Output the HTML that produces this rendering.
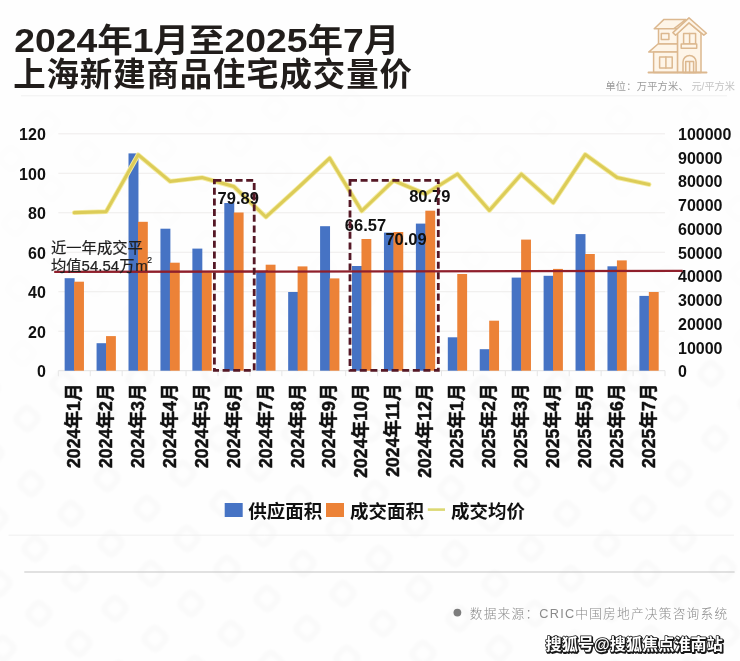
<!DOCTYPE html>
<html><head><meta charset="utf-8"><title>chart</title>
<style>html,body{margin:0;padding:0;background:#fefefe;font-family:"Liberation Sans",sans-serif;}body{width:740px;height:661px;overflow:hidden}svg text{font-family:"Liberation Sans","Noto Sans CJK SC",sans-serif;}</style>
</head><body>
<svg width="740" height="661" viewBox="0 0 740 661" style="display:block;filter:blur(0.45px)">
<defs>
<g id="wm"><rect x="-12" y="-12" width="24" height="24" rx="7" transform="rotate(42)"/><rect x="-5" y="-5" width="10" height="10" rx="2" fill="#fefefe" transform="rotate(42)"/></g>
<filter id="soft" x="-5%" y="-5%" width="110%" height="110%"><feGaussianBlur stdDeviation="1.6"/></filter>
</defs>
<rect width="740" height="661" fill="#fefefe"/>
<g filter="url(#soft)" fill="#000" opacity="0.019">
<use href="#wm" x="-13.0" y="388.5"/>
<use href="#wm" x="-9.0" y="453.5"/>
<use href="#wm" x="27.0" y="418.5"/>
<use href="#wm" x="63.0" y="383.5"/>
<use href="#wm" x="-5.0" y="518.5"/>
<use href="#wm" x="31.0" y="483.5"/>
<use href="#wm" x="67.0" y="448.5"/>
<use href="#wm" x="103.0" y="413.5"/>
<use href="#wm" x="139.0" y="378.5"/>
<use href="#wm" x="-1.0" y="583.5"/>
<use href="#wm" x="35.0" y="548.5"/>
<use href="#wm" x="71.0" y="513.5"/>
<use href="#wm" x="107.0" y="478.5"/>
<use href="#wm" x="143.0" y="443.5"/>
<use href="#wm" x="179.0" y="408.5"/>
<use href="#wm" x="215.0" y="373.5"/>
<use href="#wm" x="3.0" y="648.5"/>
<use href="#wm" x="39.0" y="613.5"/>
<use href="#wm" x="75.0" y="578.5"/>
<use href="#wm" x="111.0" y="543.5"/>
<use href="#wm" x="147.0" y="508.5"/>
<use href="#wm" x="183.0" y="473.5"/>
<use href="#wm" x="219.0" y="438.5"/>
<use href="#wm" x="255.0" y="403.5"/>
<use href="#wm" x="43.0" y="678.5"/>
<use href="#wm" x="79.0" y="643.5"/>
<use href="#wm" x="115.0" y="608.5"/>
<use href="#wm" x="151.0" y="573.5"/>
<use href="#wm" x="187.0" y="538.5"/>
<use href="#wm" x="223.0" y="503.5"/>
<use href="#wm" x="259.0" y="468.5"/>
<use href="#wm" x="295.0" y="433.5"/>
<use href="#wm" x="331.0" y="398.5"/>
<use href="#wm" x="119.0" y="673.5"/>
<use href="#wm" x="155.0" y="638.5"/>
<use href="#wm" x="191.0" y="603.5"/>
<use href="#wm" x="227.0" y="568.5"/>
<use href="#wm" x="263.0" y="533.5"/>
<use href="#wm" x="299.0" y="498.5"/>
<use href="#wm" x="335.0" y="463.5"/>
<use href="#wm" x="371.0" y="428.5"/>
<use href="#wm" x="407.0" y="393.5"/>
<use href="#wm" x="195.0" y="668.5"/>
<use href="#wm" x="231.0" y="633.5"/>
<use href="#wm" x="267.0" y="598.5"/>
<use href="#wm" x="303.0" y="563.5"/>
<use href="#wm" x="339.0" y="528.5"/>
<use href="#wm" x="375.0" y="493.5"/>
<use href="#wm" x="411.0" y="458.5"/>
<use href="#wm" x="447.0" y="423.5"/>
<use href="#wm" x="483.0" y="388.5"/>
<use href="#wm" x="235.0" y="698.5"/>
<use href="#wm" x="271.0" y="663.5"/>
<use href="#wm" x="307.0" y="628.5"/>
<use href="#wm" x="343.0" y="593.5"/>
<use href="#wm" x="379.0" y="558.5"/>
<use href="#wm" x="415.0" y="523.5"/>
<use href="#wm" x="451.0" y="488.5"/>
<use href="#wm" x="487.0" y="453.5"/>
<use href="#wm" x="523.0" y="418.5"/>
<use href="#wm" x="559.0" y="383.5"/>
<use href="#wm" x="311.0" y="693.5"/>
<use href="#wm" x="347.0" y="658.5"/>
<use href="#wm" x="383.0" y="623.5"/>
<use href="#wm" x="419.0" y="588.5"/>
<use href="#wm" x="455.0" y="553.5"/>
<use href="#wm" x="491.0" y="518.5"/>
<use href="#wm" x="527.0" y="483.5"/>
<use href="#wm" x="563.0" y="448.5"/>
<use href="#wm" x="599.0" y="413.5"/>
<use href="#wm" x="635.0" y="378.5"/>
<use href="#wm" x="387.0" y="688.5"/>
<use href="#wm" x="423.0" y="653.5"/>
<use href="#wm" x="459.0" y="618.5"/>
<use href="#wm" x="495.0" y="583.5"/>
<use href="#wm" x="531.0" y="548.5"/>
<use href="#wm" x="567.0" y="513.5"/>
<use href="#wm" x="603.0" y="478.5"/>
<use href="#wm" x="639.0" y="443.5"/>
<use href="#wm" x="675.0" y="408.5"/>
<use href="#wm" x="711.0" y="373.5"/>
<use href="#wm" x="463.0" y="683.5"/>
<use href="#wm" x="499.0" y="648.5"/>
<use href="#wm" x="535.0" y="613.5"/>
<use href="#wm" x="571.0" y="578.5"/>
<use href="#wm" x="607.0" y="543.5"/>
<use href="#wm" x="643.0" y="508.5"/>
<use href="#wm" x="679.0" y="473.5"/>
<use href="#wm" x="715.0" y="438.5"/>
<use href="#wm" x="751.0" y="403.5"/>
<use href="#wm" x="539.0" y="678.5"/>
<use href="#wm" x="575.0" y="643.5"/>
<use href="#wm" x="611.0" y="608.5"/>
<use href="#wm" x="647.0" y="573.5"/>
<use href="#wm" x="683.0" y="538.5"/>
<use href="#wm" x="719.0" y="503.5"/>
<use href="#wm" x="755.0" y="468.5"/>
<use href="#wm" x="615.0" y="673.5"/>
<use href="#wm" x="651.0" y="638.5"/>
<use href="#wm" x="687.0" y="603.5"/>
<use href="#wm" x="723.0" y="568.5"/>
<use href="#wm" x="759.0" y="533.5"/>
<use href="#wm" x="691.0" y="668.5"/>
<use href="#wm" x="727.0" y="633.5"/>
<use href="#wm" x="731.0" y="698.5"/>
</g>
<g filter="url(#soft)" fill="#000" opacity="0.006">
<use href="#wm" x="11.0" y="158.5"/>
<use href="#wm" x="47.0" y="123.5"/>
<use href="#wm" x="15.0" y="223.5"/>
<use href="#wm" x="51.0" y="188.5"/>
<use href="#wm" x="87.0" y="153.5"/>
<use href="#wm" x="123.0" y="118.5"/>
<use href="#wm" x="-17.0" y="323.5"/>
<use href="#wm" x="19.0" y="288.5"/>
<use href="#wm" x="55.0" y="253.5"/>
<use href="#wm" x="91.0" y="218.5"/>
<use href="#wm" x="127.0" y="183.5"/>
<use href="#wm" x="163.0" y="148.5"/>
<use href="#wm" x="199.0" y="113.5"/>
<use href="#wm" x="23.0" y="353.5"/>
<use href="#wm" x="59.0" y="318.5"/>
<use href="#wm" x="95.0" y="283.5"/>
<use href="#wm" x="131.0" y="248.5"/>
<use href="#wm" x="167.0" y="213.5"/>
<use href="#wm" x="203.0" y="178.5"/>
<use href="#wm" x="239.0" y="143.5"/>
<use href="#wm" x="275.0" y="108.5"/>
<use href="#wm" x="99.0" y="348.5"/>
<use href="#wm" x="135.0" y="313.5"/>
<use href="#wm" x="171.0" y="278.5"/>
<use href="#wm" x="207.0" y="243.5"/>
<use href="#wm" x="243.0" y="208.5"/>
<use href="#wm" x="279.0" y="173.5"/>
<use href="#wm" x="315.0" y="138.5"/>
<use href="#wm" x="351.0" y="103.5"/>
<use href="#wm" x="175.0" y="343.5"/>
<use href="#wm" x="211.0" y="308.5"/>
<use href="#wm" x="247.0" y="273.5"/>
<use href="#wm" x="283.0" y="238.5"/>
<use href="#wm" x="319.0" y="203.5"/>
<use href="#wm" x="355.0" y="168.5"/>
<use href="#wm" x="391.0" y="133.5"/>
<use href="#wm" x="251.0" y="338.5"/>
<use href="#wm" x="287.0" y="303.5"/>
<use href="#wm" x="323.0" y="268.5"/>
<use href="#wm" x="359.0" y="233.5"/>
<use href="#wm" x="395.0" y="198.5"/>
<use href="#wm" x="431.0" y="163.5"/>
<use href="#wm" x="467.0" y="128.5"/>
<use href="#wm" x="291.0" y="368.5"/>
<use href="#wm" x="327.0" y="333.5"/>
<use href="#wm" x="363.0" y="298.5"/>
<use href="#wm" x="399.0" y="263.5"/>
<use href="#wm" x="435.0" y="228.5"/>
<use href="#wm" x="471.0" y="193.5"/>
<use href="#wm" x="507.0" y="158.5"/>
<use href="#wm" x="543.0" y="123.5"/>
<use href="#wm" x="367.0" y="363.5"/>
<use href="#wm" x="403.0" y="328.5"/>
<use href="#wm" x="439.0" y="293.5"/>
<use href="#wm" x="475.0" y="258.5"/>
<use href="#wm" x="511.0" y="223.5"/>
<use href="#wm" x="547.0" y="188.5"/>
<use href="#wm" x="583.0" y="153.5"/>
<use href="#wm" x="619.0" y="118.5"/>
<use href="#wm" x="443.0" y="358.5"/>
<use href="#wm" x="479.0" y="323.5"/>
<use href="#wm" x="515.0" y="288.5"/>
<use href="#wm" x="551.0" y="253.5"/>
<use href="#wm" x="587.0" y="218.5"/>
<use href="#wm" x="623.0" y="183.5"/>
<use href="#wm" x="659.0" y="148.5"/>
<use href="#wm" x="695.0" y="113.5"/>
<use href="#wm" x="519.0" y="353.5"/>
<use href="#wm" x="555.0" y="318.5"/>
<use href="#wm" x="591.0" y="283.5"/>
<use href="#wm" x="627.0" y="248.5"/>
<use href="#wm" x="663.0" y="213.5"/>
<use href="#wm" x="699.0" y="178.5"/>
<use href="#wm" x="735.0" y="143.5"/>
<use href="#wm" x="595.0" y="348.5"/>
<use href="#wm" x="631.0" y="313.5"/>
<use href="#wm" x="667.0" y="278.5"/>
<use href="#wm" x="703.0" y="243.5"/>
<use href="#wm" x="739.0" y="208.5"/>
<use href="#wm" x="671.0" y="343.5"/>
<use href="#wm" x="707.0" y="308.5"/>
<use href="#wm" x="743.0" y="273.5"/>
<use href="#wm" x="747.0" y="338.5"/>
</g>
<text x="14.2" y="51.6" font-size="32.4" font-weight="bold" fill="#211d1b" textLength="385" lengthAdjust="spacingAndGlyphs"><tspan font-size="34">2024</tspan>年<tspan font-size="34">1</tspan>月至<tspan font-size="34">2025</tspan>年<tspan font-size="34">7</tspan>月</text>
<text x="13.3" y="85.8" font-size="32.4" font-weight="bold" fill="#211d1b" textLength="398.5" lengthAdjust="spacing">上海新建商品住宅成交量价</text>
<line x1="21" y1="95.8" x2="727" y2="95.8" stroke="#f0f0f0" stroke-width="1"/>
<text x="735" y="90.3" font-size="10.2" fill="#c4c4c4" text-anchor="end">元/平方米</text>
<text x="688.95" y="90.3" font-size="10.2" fill="#9c9c9c" text-anchor="end" letter-spacing="0.25">单位：万平方米、</text>
<g fill="#fef5e8" stroke="#dcb88f" stroke-width="1.5" stroke-linejoin="round" stroke-linecap="round">
<path d="M654.2 28.7 L664 19.4 L686 19.4 L674 28.7 Z"/>
<path d="M658.5 28.7 V44 H677.6 V28.7 Z"/>
<path d="M648.7 52.1 L658 44 H677.6 V52.1 Z"/>
<path d="M653.6 52.1 V72.5 H677.6 V52.1 Z"/>
<path d="M677.6 33 V72.5 H701 V33 L689 22.7 Z"/>
<path d="M672.9 32.6 L689 17.9 L706.4 33.2 L703.8 35.2 L689 22.9 L675.6 35.2 Z"/>
<rect x="661.3" y="33.6" width="7.6" height="6"/>
<rect x="659.6" y="57" width="12.6" height="10.9"/>
<path d="M665.9 57 V67.9" fill="none"/>
<rect x="683.6" y="33.6" width="12" height="10.4"/>
<path d="M689.6 33.6 V44" fill="none"/>
<rect x="681.2" y="44" width="15.5" height="4.3"/>
<path d="M683 72.5 V62 A6.55 6.55 0 0 1 696.1 62 V72.5 Z"/>
<path d="M685.7 72.5 V61.5 H693.6 V72.5 M689.6 61.5 V72.5" fill="none"/>
<path d="M648.5 72.5 H706.5" fill="none" stroke-width="1.9"/>
</g>
<line x1="58.3" y1="370.70" x2="665.0" y2="370.70" stroke="#e2e2e2" stroke-width="1"/>
<line x1="58.3" y1="331.22" x2="665.0" y2="331.22" stroke="#eeeceb" stroke-width="1"/>
<line x1="58.3" y1="291.73" x2="665.0" y2="291.73" stroke="#eeeceb" stroke-width="1"/>
<line x1="58.3" y1="252.25" x2="665.0" y2="252.25" stroke="#eeeceb" stroke-width="1"/>
<line x1="58.3" y1="212.77" x2="665.0" y2="212.77" stroke="#eeeceb" stroke-width="1"/>
<line x1="58.3" y1="173.28" x2="665.0" y2="173.28" stroke="#eeeceb" stroke-width="1"/>
<line x1="58.3" y1="133.80" x2="665.0" y2="133.80" stroke="#eeeceb" stroke-width="1"/>
<line x1="58.33" y1="370.7" x2="58.33" y2="376.2" stroke="#e6e6e6" stroke-width="1"/>
<line x1="90.26" y1="370.7" x2="90.26" y2="376.2" stroke="#e6e6e6" stroke-width="1"/>
<line x1="122.19" y1="370.7" x2="122.19" y2="376.2" stroke="#e6e6e6" stroke-width="1"/>
<line x1="154.12" y1="370.7" x2="154.12" y2="376.2" stroke="#e6e6e6" stroke-width="1"/>
<line x1="186.06" y1="370.7" x2="186.06" y2="376.2" stroke="#e6e6e6" stroke-width="1"/>
<line x1="217.99" y1="370.7" x2="217.99" y2="376.2" stroke="#e6e6e6" stroke-width="1"/>
<line x1="249.91" y1="370.7" x2="249.91" y2="376.2" stroke="#e6e6e6" stroke-width="1"/>
<line x1="281.84" y1="370.7" x2="281.84" y2="376.2" stroke="#e6e6e6" stroke-width="1"/>
<line x1="313.77" y1="370.7" x2="313.77" y2="376.2" stroke="#e6e6e6" stroke-width="1"/>
<line x1="345.70" y1="370.7" x2="345.70" y2="376.2" stroke="#e6e6e6" stroke-width="1"/>
<line x1="377.63" y1="370.7" x2="377.63" y2="376.2" stroke="#e6e6e6" stroke-width="1"/>
<line x1="409.56" y1="370.7" x2="409.56" y2="376.2" stroke="#e6e6e6" stroke-width="1"/>
<line x1="441.49" y1="370.7" x2="441.49" y2="376.2" stroke="#e6e6e6" stroke-width="1"/>
<line x1="473.42" y1="370.7" x2="473.42" y2="376.2" stroke="#e6e6e6" stroke-width="1"/>
<line x1="505.35" y1="370.7" x2="505.35" y2="376.2" stroke="#e6e6e6" stroke-width="1"/>
<line x1="537.28" y1="370.7" x2="537.28" y2="376.2" stroke="#e6e6e6" stroke-width="1"/>
<line x1="569.22" y1="370.7" x2="569.22" y2="376.2" stroke="#e6e6e6" stroke-width="1"/>
<line x1="601.14" y1="370.7" x2="601.14" y2="376.2" stroke="#e6e6e6" stroke-width="1"/>
<line x1="633.08" y1="370.7" x2="633.08" y2="376.2" stroke="#e6e6e6" stroke-width="1"/>
<line x1="665.00" y1="370.7" x2="665.00" y2="376.2" stroke="#e6e6e6" stroke-width="1"/>
<g font-size="16" font-weight="bold" fill="#111" text-anchor="end">
<text x="45.8" y="377.40">0</text>
<text x="45.8" y="337.83">20</text>
<text x="45.8" y="298.27">40</text>
<text x="45.8" y="258.70">60</text>
<text x="45.8" y="219.13">80</text>
<text x="45.8" y="179.57">100</text>
<text x="45.8" y="140.00">120</text>
</g>
<g font-size="16" font-weight="bold" fill="#111" text-anchor="start">
<text x="678" y="377.40">0</text>
<text x="678" y="353.66">10000</text>
<text x="678" y="329.92">20000</text>
<text x="678" y="306.18">30000</text>
<text x="678" y="282.44">40000</text>
<text x="678" y="258.70">50000</text>
<text x="678" y="234.96">60000</text>
<text x="678" y="211.22">70000</text>
<text x="678" y="187.48">80000</text>
<text x="678" y="163.74">90000</text>
<text x="678" y="140.00">100000</text>
</g>
<rect x="64.65" y="278.20" width="9.95" height="92.50" fill="#4673c4"/>
<rect x="74.10" y="281.70" width="9.85" height="89.00" fill="#ec8237"/>
<rect x="96.58" y="343.20" width="9.95" height="27.50" fill="#4673c4"/>
<rect x="106.03" y="336.10" width="9.85" height="34.60" fill="#ec8237"/>
<rect x="128.51" y="153.40" width="9.95" height="217.30" fill="#4673c4"/>
<rect x="137.96" y="221.80" width="9.85" height="148.90" fill="#ec8237"/>
<rect x="160.44" y="228.70" width="9.95" height="142.00" fill="#4673c4"/>
<rect x="169.89" y="262.70" width="9.85" height="108.00" fill="#ec8237"/>
<rect x="192.37" y="248.60" width="9.95" height="122.10" fill="#4673c4"/>
<rect x="201.82" y="272.50" width="9.85" height="98.20" fill="#ec8237"/>
<rect x="224.30" y="203.00" width="9.95" height="167.70" fill="#4673c4"/>
<rect x="233.75" y="212.50" width="9.85" height="158.20" fill="#ec8237"/>
<rect x="256.23" y="271.60" width="9.95" height="99.10" fill="#4673c4"/>
<rect x="265.68" y="264.70" width="9.85" height="106.00" fill="#ec8237"/>
<rect x="288.16" y="292.00" width="9.95" height="78.70" fill="#4673c4"/>
<rect x="297.61" y="266.40" width="9.85" height="104.30" fill="#ec8237"/>
<rect x="320.09" y="226.20" width="9.95" height="144.50" fill="#4673c4"/>
<rect x="329.54" y="278.40" width="9.85" height="92.30" fill="#ec8237"/>
<rect x="352.02" y="266.00" width="9.95" height="104.70" fill="#4673c4"/>
<rect x="361.47" y="239.00" width="9.85" height="131.70" fill="#ec8237"/>
<rect x="383.95" y="232.60" width="9.95" height="138.10" fill="#4673c4"/>
<rect x="393.40" y="232.00" width="9.85" height="138.70" fill="#ec8237"/>
<rect x="415.88" y="223.60" width="9.95" height="147.10" fill="#4673c4"/>
<rect x="425.33" y="210.70" width="9.85" height="160.00" fill="#ec8237"/>
<rect x="447.81" y="337.30" width="9.95" height="33.40" fill="#4673c4"/>
<rect x="457.26" y="274.00" width="9.85" height="96.70" fill="#ec8237"/>
<rect x="479.74" y="349.20" width="9.95" height="21.50" fill="#4673c4"/>
<rect x="489.19" y="320.70" width="9.85" height="50.00" fill="#ec8237"/>
<rect x="511.67" y="277.60" width="9.95" height="93.10" fill="#4673c4"/>
<rect x="521.12" y="239.60" width="9.85" height="131.10" fill="#ec8237"/>
<rect x="543.60" y="275.80" width="9.95" height="94.90" fill="#4673c4"/>
<rect x="553.05" y="268.90" width="9.85" height="101.80" fill="#ec8237"/>
<rect x="575.53" y="234.10" width="9.95" height="136.60" fill="#4673c4"/>
<rect x="584.98" y="254.00" width="9.85" height="116.70" fill="#ec8237"/>
<rect x="607.46" y="266.30" width="9.95" height="104.40" fill="#4673c4"/>
<rect x="616.91" y="260.40" width="9.85" height="110.30" fill="#ec8237"/>
<rect x="639.39" y="295.90" width="9.95" height="74.80" fill="#4673c4"/>
<rect x="648.84" y="292.00" width="9.85" height="78.70" fill="#ec8237"/>
<polyline points="74.3,212.6 106.2,211.6 138.2,154.8 170.1,181.4 202.0,177.6 233.9,186.6 265.9,217.0 297.8,188.0 329.7,158.2 361.7,211.0 393.6,180.6 425.5,194.0 457.5,174.0 489.4,210.4 521.3,174.2 553.2,202.6 585.2,154.6 617.1,177.6 649.0,184.4" fill="none" stroke="#f5eca2" stroke-width="4.9" stroke-linejoin="round" stroke-linecap="round"/>
<polyline points="74.3,212.6 106.2,211.6 138.2,154.8 170.1,181.4 202.0,177.6 233.9,186.6 265.9,217.0 297.8,188.0 329.7,158.2 361.7,211.0 393.6,180.6 425.5,194.0 457.5,174.0 489.4,210.4 521.3,174.2 553.2,202.6 585.2,154.6 617.1,177.6 649.0,184.4" fill="none" stroke="#dccc58" stroke-width="3.1" stroke-linejoin="round" stroke-linecap="round"/>
<line x1="54.2" y1="271.9" x2="682.6" y2="270.8" stroke="#8f1f2b" stroke-width="2.3"/>
<g font-size="16.5" font-weight="bold" fill="#111">
<text x="217.6" y="203.6">79.89</text>
<text x="344.8" y="230.6">66.57</text>
<text x="385.4" y="244.8">70.09</text>
<text x="409.2" y="201.8">80.79</text>
</g>
<rect x="214.4" y="180.4" width="39.8" height="190" stroke="#551826" stroke-width="2.8" fill="none" stroke-dasharray="7 3.6"/>
<rect x="350.0" y="180.4" width="88.3" height="190" stroke="#551826" stroke-width="2.8" fill="none" stroke-dasharray="7 3.6"/>
<text x="51" y="252.6" font-size="15.3" fill="#1e1e1e" stroke="#1e1e1e" stroke-width="0.2">近一年成交平</text>
<text y="270.6" font-size="15.3" fill="#1e1e1e" stroke="#1e1e1e" stroke-width="0.2"><tspan x="51">均值</tspan><tspan x="81.6" font-size="15">54.54</tspan><tspan x="119.27">万</tspan><tspan x="135.17" font-size="15">m</tspan><tspan x="147.17" y="263.4" font-size="8.6">2</tspan></text>
<g font-size="17.7" font-weight="bold" fill="#111" stroke="#111" stroke-width="0.5" stroke-linejoin="round" text-anchor="end">
<text transform="translate(80.00 383.40) rotate(-90)">2024年1月</text>
<text transform="translate(111.93 383.40) rotate(-90)">2024年2月</text>
<text transform="translate(143.86 383.40) rotate(-90)">2024年3月</text>
<text transform="translate(175.79 383.40) rotate(-90)">2024年4月</text>
<text transform="translate(207.72 383.40) rotate(-90)">2024年5月</text>
<text transform="translate(239.65 383.40) rotate(-90)">2024年6月</text>
<text transform="translate(271.58 383.40) rotate(-90)">2024年7月</text>
<text transform="translate(303.51 383.40) rotate(-90)">2024年8月</text>
<text transform="translate(335.44 383.40) rotate(-90)">2024年9月</text>
<text transform="translate(367.37 383.40) rotate(-90)">2024年10月</text>
<text transform="translate(399.30 383.40) rotate(-90)">2024年11月</text>
<text transform="translate(431.23 383.40) rotate(-90)">2024年12月</text>
<text transform="translate(463.16 383.40) rotate(-90)">2025年1月</text>
<text transform="translate(495.09 383.40) rotate(-90)">2025年2月</text>
<text transform="translate(527.02 383.40) rotate(-90)">2025年3月</text>
<text transform="translate(558.95 383.40) rotate(-90)">2025年4月</text>
<text transform="translate(590.88 383.40) rotate(-90)">2025年5月</text>
<text transform="translate(622.81 383.40) rotate(-90)">2025年6月</text>
<text transform="translate(654.74 383.40) rotate(-90)">2025年7月</text>
</g>
<rect x="224.7" y="503" width="18" height="14" fill="#4673c4"/>
<text x="248.2" y="517.7" font-size="18.5" font-weight="bold" fill="#111">供应面积</text>
<rect x="326" y="503" width="18" height="14" fill="#ec8237"/>
<text x="349.9" y="517.7" font-size="18.5" font-weight="bold" fill="#111">成交面积</text>
<line x1="427.8" y1="509.6" x2="445" y2="509.6" stroke="#dcd873" stroke-width="2.6"/>
<text x="451" y="517.7" font-size="18.5" font-weight="bold" fill="#111">成交均价</text>
<line x1="8.5" y1="535.2" x2="734" y2="535.2" stroke="#efefef" stroke-width="1"/>
<line x1="24.3" y1="572" x2="734.6" y2="572" stroke="#c4c4c4" stroke-width="1.2"/>
<circle cx="457.4" cy="612.6" r="3.9" fill="#7d7d7d"/>
<text x="469.8" y="618" font-size="12.7" font-weight="300" fill="#8a8a8a" textLength="257.3" lengthAdjust="spacing">数据来源：CRIC中国房地产决策咨询系统</text>
<text x="546.4" y="650.5" font-size="16.1" font-weight="bold" fill="#222" stroke="#1a1a1a" stroke-width="2.0" stroke-linejoin="round" textLength="177.2" lengthAdjust="spacing">搜狐号@搜狐焦点淮南站</text>
<text x="545.6" y="649.8" font-size="16.1" font-weight="bold" fill="#fff" stroke="#1a1a1a" stroke-width="1.5" stroke-linejoin="round" paint-order="stroke" textLength="177.2" lengthAdjust="spacing">搜狐号@搜狐焦点淮南站</text>
</svg>
</body></html>
